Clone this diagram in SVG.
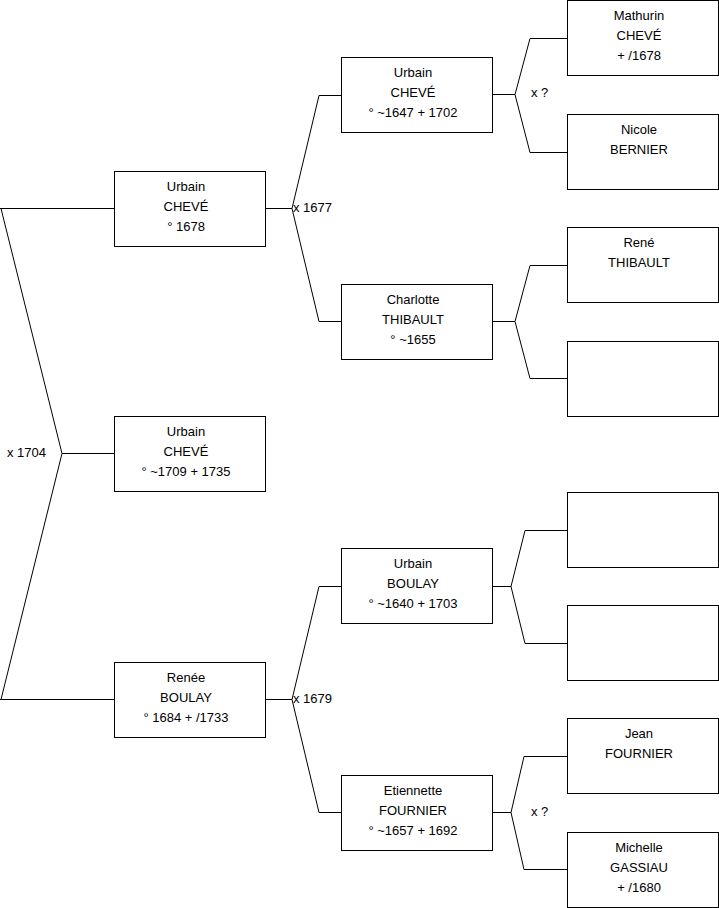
<svg xmlns="http://www.w3.org/2000/svg" width="719" height="908" viewBox="0 0 719 908">
<style>
.box{fill:#fff;stroke:#000;stroke-width:1}
.ln{fill:none;stroke:#000;stroke-width:1}
text{font-family:"Liberation Sans",Arial,sans-serif;font-size:13px;fill:#000}
.c{text-anchor:middle}
</style>
<rect width="719" height="908" fill="#fff"/>
<g id="connectors">
<path class="ln" d="M0,208.5 H114 M0,699.5 H114 M1,208.5 L62,453.5 L1,699.5 M62,453.5 H114"/>
<path class="ln" d="M265,208.5 H292 M341,95.5 H319 L292,208.5 L319,321.5 H341"/>
<path class="ln" d="M265,699.5 H292 M341,586.5 H319 L292,699.5 L319,812.5 H341"/>
<path class="ln" d="M492,94.5 H515 M567,38.5 H530 L515,94.5 L530,152.5 H567"/>
<path class="ln" d="M492,321.5 H515 M567,265.5 H530 L515,321.5 L530,378.5 H567"/>
<path class="ln" d="M492,586.5 H511 M567,530.5 H525 L511,586.5 L525,643.5 H567"/>
<path class="ln" d="M492,812.5 H511 M567,756.5 H524 L511,812.5 L524,869.5 H567"/>
<text x="7" y="457">x 1704</text>
<text x="293" y="212">x 1677</text>
<text x="293" y="703">x 1679</text>
<text x="531" y="97">x ?</text>
<text x="531" y="816">x ?</text>
</g>
<g id="urbain_cheve_1678">
<rect class="box" x="114.5" y="171.5" width="151" height="75"/>
<text class="c" x="186" y="191">Urbain</text><text class="c" x="186" y="211">CHEVÉ</text><text class="c" x="186" y="231">° 1678</text>
</g>
<g id="urbain_cheve_1709">
<rect class="box" x="114.5" y="416.5" width="151" height="75"/>
<text class="c" x="186" y="436">Urbain</text><text class="c" x="186" y="456">CHEVÉ</text><text class="c" x="186" y="476">° ~1709 + 1735</text>
</g>
<g id="renee_boulay">
<rect class="box" x="114.5" y="662.5" width="151" height="75"/>
<text class="c" x="186" y="682">Renée</text><text class="c" x="186" y="702">BOULAY</text><text class="c" x="186" y="722">° 1684 + /1733</text>
</g>
<g id="urbain_cheve_1647">
<rect class="box" x="341.5" y="57.5" width="151" height="75"/>
<text class="c" x="413" y="77">Urbain</text><text class="c" x="413" y="97">CHEVÉ</text><text class="c" x="413" y="117">° ~1647 + 1702</text>
</g>
<g id="charlotte_thibault">
<rect class="box" x="341.5" y="284.5" width="151" height="75"/>
<text class="c" x="413" y="304">Charlotte</text><text class="c" x="413" y="324">THIBAULT</text><text class="c" x="413" y="344">° ~1655</text>
</g>
<g id="urbain_boulay">
<rect class="box" x="341.5" y="548.5" width="151" height="75"/>
<text class="c" x="413" y="568">Urbain</text><text class="c" x="413" y="588">BOULAY</text><text class="c" x="413" y="608">° ~1640 + 1703</text>
</g>
<g id="etiennette_fournier">
<rect class="box" x="341.5" y="775.5" width="151" height="75"/>
<text class="c" x="413" y="795">Etiennette</text><text class="c" x="413" y="815">FOURNIER</text><text class="c" x="413" y="835">° ~1657 + 1692</text>
</g>
<g id="mathurin_cheve">
<rect class="box" x="567.5" y="0.5" width="151" height="75"/>
<text class="c" x="639" y="20">Mathurin</text><text class="c" x="639" y="40">CHEVÉ</text><text class="c" x="639" y="60">+ /1678</text>
</g>
<g id="nicole_bernier">
<rect class="box" x="567.5" y="114.5" width="151" height="75"/>
<text class="c" x="639" y="134">Nicole</text><text class="c" x="639" y="154">BERNIER</text>
</g>
<g id="rene_thibault">
<rect class="box" x="567.5" y="227.5" width="151" height="75"/>
<text class="c" x="639" y="247">René</text><text class="c" x="639" y="267">THIBAULT</text>
</g>
<g id="unknown_1">
<rect class="box" x="567.5" y="341.5" width="151" height="75"/>
</g>
<g id="unknown_2">
<rect class="box" x="567.5" y="492.5" width="151" height="75"/>
</g>
<g id="unknown_3">
<rect class="box" x="567.5" y="605.5" width="151" height="75"/>
</g>
<g id="jean_fournier">
<rect class="box" x="567.5" y="718.5" width="151" height="75"/>
<text class="c" x="639" y="738">Jean</text><text class="c" x="639" y="758">FOURNIER</text>
</g>
<g id="michelle_gassiau">
<rect class="box" x="567.5" y="832.5" width="151" height="75"/>
<text class="c" x="639" y="852">Michelle</text><text class="c" x="639" y="872">GASSIAU</text><text class="c" x="639" y="892">+ /1680</text>
</g>
</svg>
